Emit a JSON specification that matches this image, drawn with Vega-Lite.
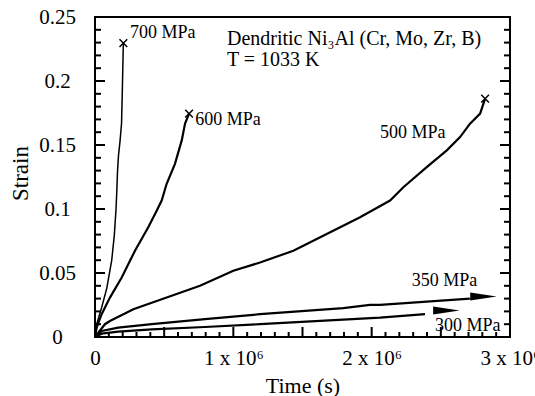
{
  "$schema": "https://vega.github.io/schema/vega-lite/v6.json",
  "width": 415,
  "height": 320,
  "autosize": {"type": "none"},
  "padding": {"left": 95, "top": 17, "right": 25, "bottom": 59},
  "background": "white",
  "config": {
    "font": "Liberation Serif",
    "view": {"stroke": "black", "strokeWidth": 2},
    "axis": {
      "grid": false,
      "domain": false,
      "labelColor": "black",
      "titleColor": "black",
      "labelFont": "Liberation Serif",
      "titleFont": "Liberation Serif",
      "titleFontWeight": "normal",
      "labelFontSize": 21,
      "titleFontSize": 22
    }
  },
  "datasets": {
    "curve700": [
      {"series": "700", "t": 0, "strain": 0},
      {"series": "700", "t": 12000, "strain": 0.010},
      {"series": "700", "t": 48000, "strain": 0.023},
      {"series": "700", "t": 85000, "strain": 0.038},
      {"series": "700", "t": 121000, "strain": 0.060},
      {"series": "700", "t": 140000, "strain": 0.080},
      {"series": "700", "t": 152000, "strain": 0.100},
      {"series": "700", "t": 158000, "strain": 0.115},
      {"series": "700", "t": 163000, "strain": 0.130},
      {"series": "700", "t": 170000, "strain": 0.142},
      {"series": "700", "t": 181000, "strain": 0.153},
      {"series": "700", "t": 192000, "strain": 0.167},
      {"series": "700", "t": 197000, "strain": 0.190},
      {"series": "700", "t": 201000, "strain": 0.210},
      {"series": "700", "t": 205000, "strain": 0.230}
    ],
    "curves": [
      {"series": "600", "t": 0, "strain": 0},
      {"series": "600", "t": 12000, "strain": 0.0073},
      {"series": "600", "t": 48000, "strain": 0.0178},
      {"series": "600", "t": 108000, "strain": 0.0308},
      {"series": "600", "t": 193000, "strain": 0.0465},
      {"series": "600", "t": 289000, "strain": 0.0674},
      {"series": "600", "t": 385000, "strain": 0.0857},
      {"series": "600", "t": 446000, "strain": 0.0987},
      {"series": "600", "t": 482000, "strain": 0.1066},
      {"series": "600", "t": 518000, "strain": 0.1197},
      {"series": "600", "t": 578000, "strain": 0.1353},
      {"series": "600", "t": 627000, "strain": 0.1536},
      {"series": "600", "t": 651000, "strain": 0.1667},
      {"series": "600", "t": 680000, "strain": 0.1745},
      {"series": "500", "t": 0, "strain": 0},
      {"series": "500", "t": 24000, "strain": 0.0034},
      {"series": "500", "t": 72000, "strain": 0.0100},
      {"series": "500", "t": 108000, "strain": 0.0125},
      {"series": "500", "t": 277000, "strain": 0.0217},
      {"series": "500", "t": 518000, "strain": 0.0308},
      {"series": "500", "t": 759000, "strain": 0.0400},
      {"series": "500", "t": 1000000, "strain": 0.0517},
      {"series": "500", "t": 1193000, "strain": 0.0582},
      {"series": "500", "t": 1434000, "strain": 0.0674},
      {"series": "500", "t": 1675000, "strain": 0.0805},
      {"series": "500", "t": 1916000, "strain": 0.0935},
      {"series": "500", "t": 2133000, "strain": 0.1066},
      {"series": "500", "t": 2229000, "strain": 0.1170},
      {"series": "500", "t": 2398000, "strain": 0.1327},
      {"series": "500", "t": 2543000, "strain": 0.1458},
      {"series": "500", "t": 2639000, "strain": 0.1562},
      {"series": "500", "t": 2711000, "strain": 0.1667},
      {"series": "500", "t": 2784000, "strain": 0.1745},
      {"series": "500", "t": 2820000, "strain": 0.1863},
      {"series": "350", "t": 0, "strain": 0},
      {"series": "350", "t": 48000, "strain": 0.0047},
      {"series": "350", "t": 168000, "strain": 0.0073},
      {"series": "350", "t": 410000, "strain": 0.0100},
      {"series": "350", "t": 795000, "strain": 0.0139},
      {"series": "350", "t": 1193000, "strain": 0.0178},
      {"series": "350", "t": 1795000, "strain": 0.0225},
      {"series": "350", "t": 1988000, "strain": 0.0251},
      {"series": "350", "t": 2061000, "strain": 0.0251},
      {"series": "350", "t": 2710000, "strain": 0.0300},
      {"series": "300", "t": 0, "strain": 0},
      {"series": "300", "t": 48000, "strain": 0.0026},
      {"series": "300", "t": 168000, "strain": 0.0042},
      {"series": "300", "t": 410000, "strain": 0.0060},
      {"series": "300", "t": 795000, "strain": 0.0078},
      {"series": "300", "t": 1193000, "strain": 0.0100},
      {"series": "300", "t": 2061000, "strain": 0.0151},
      {"series": "300", "t": 2386000, "strain": 0.0178}
    ],
    "ends": [
      {"series": "700", "t": 205000, "strain": 0.2296},
      {"series": "600", "t": 680000, "strain": 0.1745},
      {"series": "500", "t": 2820000, "strain": 0.1863}
    ],
    "arrows": [
      {"series": "350", "t": 2808000, "strain": 0.0316},
      {"series": "300", "t": 2540000, "strain": 0.0207}
    ],
    "labels": [
      {"text": "700 MPa", "t": 253000, "strain": 0.2375},
      {"text": "600 MPa", "t": 725000, "strain": 0.1693},
      {"text": "500 MPa", "t": 2060000, "strain": 0.159},
      {"text": "350 MPa", "t": 2290000, "strain": 0.0439},
      {"text": "300 MPa", "t": 2458000, "strain": 0.0086}
    ],
    "notes": [
      {"text": "Dendritic Ni₃Al (Cr, Mo, Zr, B)", "t": 954000, "strain": 0.2328},
      {"text": "T = 1033 K", "t": 954000, "strain": 0.2163}
    ],
    "ymajor": [{"v": 0}, {"v": 0.05}, {"v": 0.1}, {"v": 0.15}, {"v": 0.2}, {"v": 0.25}],
    "yminor": [
      {"v": 0.01}, {"v": 0.02}, {"v": 0.03}, {"v": 0.04},
      {"v": 0.06}, {"v": 0.07}, {"v": 0.08}, {"v": 0.09},
      {"v": 0.11}, {"v": 0.12}, {"v": 0.13}, {"v": 0.14},
      {"v": 0.16}, {"v": 0.17}, {"v": 0.18}, {"v": 0.19},
      {"v": 0.21}, {"v": 0.22}, {"v": 0.23}, {"v": 0.24}
    ],
    "xmajor": [{"v": 0}, {"v": 500000}, {"v": 1000000}, {"v": 1500000}, {"v": 2000000}, {"v": 2500000}, {"v": 3000000}],
    "xminor": [
      {"v": 100000}, {"v": 200000}, {"v": 300000}, {"v": 400000},
      {"v": 600000}, {"v": 700000}, {"v": 800000}, {"v": 900000},
      {"v": 1100000}, {"v": 1200000}, {"v": 1300000}, {"v": 1400000},
      {"v": 1600000}, {"v": 1700000}, {"v": 1800000}, {"v": 1900000},
      {"v": 2100000}, {"v": 2200000}, {"v": 2300000}, {"v": 2400000},
      {"v": 2600000}, {"v": 2700000}, {"v": 2800000}, {"v": 2900000}
    ]
  },
  "layer": [
    {
      "data": {"name": "ymajor"},
      "mark": {"type": "rule", "color": "#000000", "strokeWidth": 2},
      "encoding": {
        "x": {
          "datum": 0, "type": "quantitative",
          "scale": {"domain": [0, 3000000], "nice": false, "zero": false},
          "axis": {
            "orient": "bottom",
            "values": [0, 1000000, 2000000, 3000000],
            "labelExpr": "datum.value == 0 ? '0' : format(datum.value / 1000000, 'd') + ' x 10⁶'",
            "ticks": false,
            "labelPadding": 27,
            "labelBaseline": "alphabetic",
            "labelFlush": false,
            "title": "Time (s)",
            "titleBaseline": "alphabetic",
            "titleY": 55
          }
        },
        "x2": {"datum": 72300},
        "y": {
          "field": "v", "type": "quantitative",
          "scale": {"domain": [0, 0.25], "nice": false, "zero": false},
          "axis": {
            "orient": "left",
            "values": [0, 0.05, 0.1, 0.15, 0.2, 0.25],
            "format": ".2~f",
            "ticks": false,
            "labelAlign": "center",
            "labelBaseline": "middle",
            "labelPadding": 38,
            "labelFlush": false,
            "title": "Strain",
            "titleFontSize": 23,
            "titleBaseline": "alphabetic",
            "titleAngle": -90,
            "titleX": -68,
            "titleY": 156
          }
        }
      }
    },
    {
      "data": {"name": "yminor"},
      "mark": {"type": "rule", "color": "#000000", "strokeWidth": 2},
      "encoding": {"x": {"datum": 0, "type": "quantitative"}, "x2": {"datum": 43400}, "y": {"field": "v", "type": "quantitative"}}
    },
    {
      "data": {"name": "ymajor"},
      "mark": {"type": "rule", "color": "#000000", "strokeWidth": 2},
      "encoding": {"x": {"datum": 2927700, "type": "quantitative"}, "x2": {"datum": 3000000}, "y": {"field": "v", "type": "quantitative"}}
    },
    {
      "data": {"name": "yminor"},
      "mark": {"type": "rule", "color": "#000000", "strokeWidth": 2},
      "encoding": {"x": {"datum": 2956600, "type": "quantitative"}, "x2": {"datum": 3000000}, "y": {"field": "v", "type": "quantitative"}}
    },
    {
      "data": {"name": "xmajor"},
      "mark": {"type": "rule", "color": "#000000", "strokeWidth": 2},
      "encoding": {"y": {"datum": 0, "type": "quantitative"}, "y2": {"datum": 0.0078}, "x": {"field": "v", "type": "quantitative"}}
    },
    {
      "data": {"name": "xminor"},
      "mark": {"type": "rule", "color": "#000000", "strokeWidth": 2},
      "encoding": {"y": {"datum": 0, "type": "quantitative"}, "y2": {"datum": 0.0039}, "x": {"field": "v", "type": "quantitative"}}
    },
    {
      "data": {"name": "curves"},
      "mark": {"type": "line", "color": "black", "strokeWidth": 2.2},
      "encoding": {
        "x": {"field": "t", "type": "quantitative"},
        "y": {"field": "strain", "type": "quantitative"},
        "detail": {"field": "series", "type": "nominal"}
      }
    },
    {
      "data": {"name": "curve700"},
      "mark": {"type": "line", "color": "black", "strokeWidth": 1.5},
      "encoding": {
        "x": {"field": "t", "type": "quantitative"},
        "y": {"field": "strain", "type": "quantitative"}
      }
    },
    {
      "data": {"name": "ends"},
      "mark": {"type": "point", "shape": "M-1,-1L1,1M1,-1L-1,1", "filled": false, "stroke": "black", "strokeWidth": 1.5, "size": 60, "opacity": 1},
      "encoding": {
        "x": {"field": "t", "type": "quantitative"},
        "y": {"field": "strain", "type": "quantitative"}
      }
    },
    {
      "data": {"name": "arrows"},
      "mark": {"type": "point", "shape": "M-1,-0.3L1,0L-1,0.3Z", "filled": true, "color": "black", "size": 700, "opacity": 1},
      "encoding": {
        "x": {"field": "t", "type": "quantitative"},
        "y": {"field": "strain", "type": "quantitative"}
      }
    },
    {
      "data": {"name": "labels"},
      "mark": {"type": "text", "align": "left", "baseline": "middle", "fontSize": 18, "color": "black", "font": "Liberation Serif"},
      "encoding": {
        "x": {"field": "t", "type": "quantitative"},
        "y": {"field": "strain", "type": "quantitative"},
        "text": {"field": "text", "type": "nominal"}
      }
    },
    {
      "data": {"name": "notes"},
      "mark": {"type": "text", "align": "left", "baseline": "middle", "fontSize": 20, "color": "black", "font": "Liberation Serif"},
      "encoding": {
        "x": {"field": "t", "type": "quantitative"},
        "y": {"field": "strain", "type": "quantitative"},
        "text": {"field": "text", "type": "nominal"}
      }
    }
  ]
}
